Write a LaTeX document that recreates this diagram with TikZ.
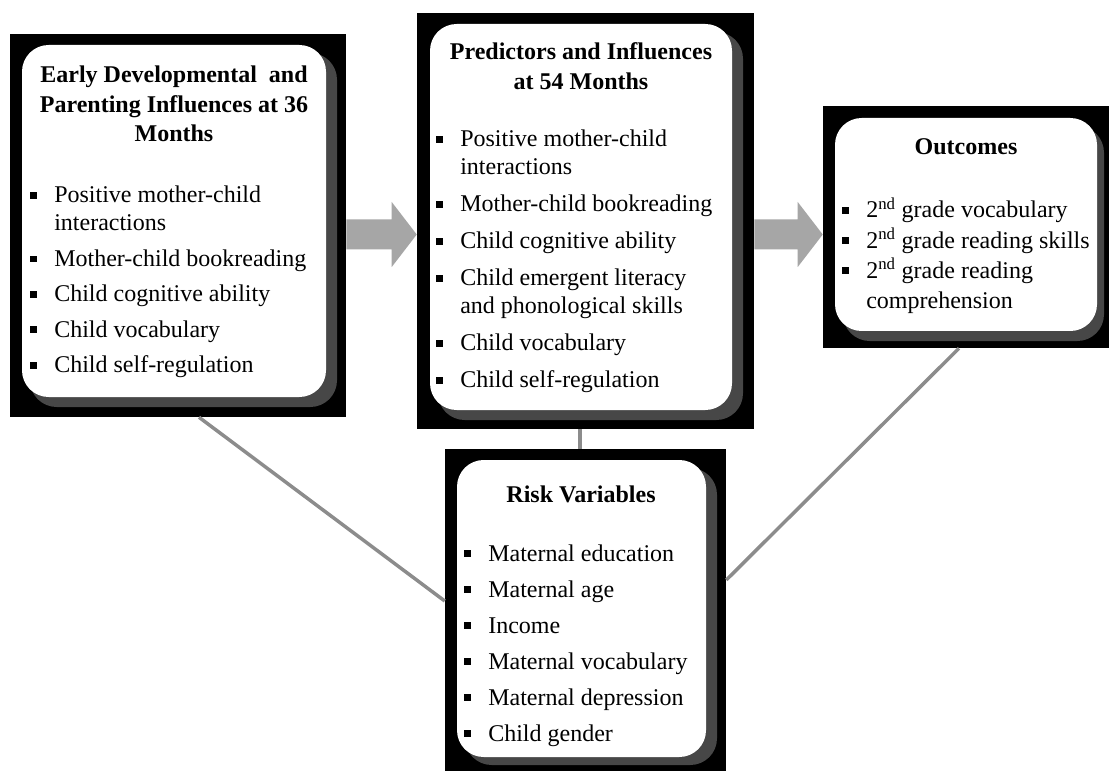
\documentclass[tikz,border=0pt]{standalone}
\usepackage{fontspec}
\setmainfont{Liberation Serif}
\usetikzlibrary{fit,calc}
\definecolor{arrowgray}{HTML}{A6A6A6}
\definecolor{linkgray}{HTML}{8C8C8C}
\newcommand\sqmark{\makebox[18pt][l]{\rule[3pt]{5.2pt}{5.2pt}}}
\newcommand\hangin{\hspace*{18pt}}
\newcommand\lineitem[1]{\hbox{#1}}
\newcommand\ctrline[1]{\hbox to 0pt{\hss #1\hss}}
\newcommand\itemgap[1]{\vskip #1\relax}
\begin{document}
\begin{tikzpicture}[x=0.75pt,y=-0.75pt,
 outerbox/.style={fill=black, draw=none, inner sep=0pt},
 innerbox/.style={fill=white, draw=none, rounded corners=20pt, inner sep=0pt},
 shadowband/.style={fill=black!72, draw=none, rounded corners=20pt, inner sep=0pt},
 titletext/.style={anchor=base, inner sep=0pt, font=\fontsize{18}{22}\selectfont\bfseries},
 listtext/.style={anchor=base west, inner sep=0pt, font=\fontsize{18}{21}\selectfont},
 link/.style={draw=linkgray, line width=2.6pt},
 blockarrow/.style={fill=arrowgray, draw=none}]
\useasboundingbox (0,0) rectangle (1109,773);
\fill[white] (0,0) rectangle (1109,773);

% Box 1
\node[outerbox, fit={(10,34) (346,417)}] (b1) {};
\node[shadowband, fit={(30,53) (337,407)}] (s1) {};
\node[innerbox, fit={(22,45) (326,397)}] (i1) {};
\node[titletext] (t1) at (174,83) {\vtop{\ctrline{Early Developmental\ \ and}\ctrline{Parenting Influences at 36}\ctrline{Months}}};
\node[listtext] (l1) at (30,203) {\vtop{%
 \lineitem{\sqmark Positive mother-child}\lineitem{\hangin interactions}\itemgap{5.6pt}%
 \lineitem{\sqmark Mother-child bookreading}\itemgap{5.6pt}%
 \lineitem{\sqmark Child cognitive ability}\itemgap{5.6pt}%
 \lineitem{\sqmark Child vocabulary}\itemgap{5.6pt}%
 \lineitem{\sqmark Child self-regulation}}};

% Box 2
\node[outerbox, fit={(417,13) (754,429)}] (b2) {};
\node[shadowband, fit={(438,32) (743,420)}] (s2) {};
\node[innerbox, fit={(430,24) (732,410)}] (i2) {};
\node[titletext] (t2) at (581,60) {\vtop{\ctrline{Predictors and Influences}\ctrline{at 54 Months}}};
\node[listtext] (l2) at (436,147) {\vtop{%
 \lineitem{\sqmark Positive mother-child}\lineitem{\hangin interactions}\itemgap{6.75pt}%
 \lineitem{\sqmark Mother-child bookreading}\itemgap{6.75pt}%
 \lineitem{\sqmark Child cognitive ability}\itemgap{6.75pt}%
 \lineitem{\sqmark Child emergent literacy}\lineitem{\hangin and phonological skills}\itemgap{6.75pt}%
 \lineitem{\sqmark Child vocabulary}\itemgap{6.75pt}%
 \lineitem{\sqmark Child self-regulation}}};

% Box 3
\node[outerbox, fit={(823,106) (1109,348)}] (b3) {};
\node[shadowband, fit={(843,126) (1104,341)}] (s3) {};
\node[innerbox, fit={(835,118) (1097,331)}] (i3) {};
\node[titletext] (t3) at (966,155) {\vtop{\ctrline{Outcomes}}};
\node[listtext, font=\fontsize{18}{22.6}\selectfont] (l3) at (842,218) {\vtop{%
 \lineitem{\sqmark 2\textsuperscript{nd} grade vocabulary}%
 \lineitem{\sqmark 2\textsuperscript{nd} grade reading skills}%
 \lineitem{\sqmark 2\textsuperscript{nd} grade reading}\lineitem{\hangin comprehension}}};

% Box 4
\node[outerbox, fit={(445,449) (726,771)}] (b4) {};
\node[shadowband, fit={(465,468) (717,765)}] (s4) {};
\node[innerbox, fit={(457,460) (706,757)}] (i4) {};
\node[titletext] (t4) at (581,502) {\vtop{\ctrline{Risk Variables}}};
\node[listtext] (l4) at (464,561) {\vtop{%
 \lineitem{\sqmark Maternal education}\itemgap{6pt}%
 \lineitem{\sqmark Maternal age}\itemgap{6pt}%
 \lineitem{\sqmark Income}\itemgap{6pt}%
 \lineitem{\sqmark Maternal vocabulary}\itemgap{6pt}%
 \lineitem{\sqmark Maternal depression}\itemgap{6pt}%
 \lineitem{\sqmark Child gender}}};

% Block arrows
\coordinate (ay) at (0,234.5);
\coordinate (a1s) at (b1.east |- ay);
\coordinate (a1e) at (b2.west |- ay);
\coordinate (a2s) at (b2.east |- ay);
\coordinate (a2e) at (b3.west |- ay);
\fill[blockarrow] ($(a1s)+(0,-15)$) -- ($(a1e)+(-25,-15)$) -- ($(a1e)+(-25,-32.5)$) -- (a1e)
  -- ($(a1e)+(-25,32.5)$) -- ($(a1e)+(-25,15)$) -- ($(a1s)+(0,15)$) -- cycle;
\fill[blockarrow] ($(a2s)+(0,-15)$) -- ($(a2e)+(-25,-15)$) -- ($(a2e)+(-25,-32.5)$) -- (a2e)
  -- ($(a2e)+(-25,32.5)$) -- ($(a2e)+(-25,15)$) -- ($(a2s)+(0,15)$) -- cycle;

% Links
\coordinate (lx) at (580,0);
\coordinate (l1a) at (199,0);
\coordinate (l1b) at (0,601);
\coordinate (r1a) at (959,0);
\coordinate (r1b) at (0,580);
\draw[link] (b2.south -| lx) -- (b4.north -| lx);
\draw[link] (b1.south -| l1a) -- (b4.west |- l1b);
\draw[link] (b3.south -| r1a) -- (b4.east |- r1b);
\end{tikzpicture}
\end{document}
